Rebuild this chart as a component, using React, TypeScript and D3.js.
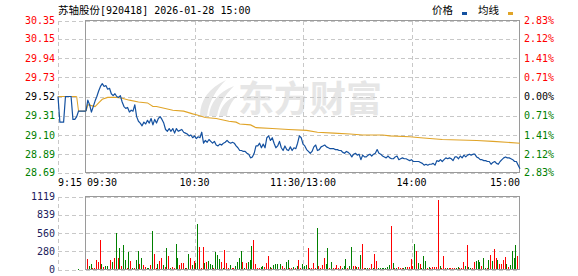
import React from "react";
import * as d3 from "d3";

const W = 578;
const H = 276;

const stockTitle = "苏轴股份";
const stockCode = "[920418] 2026-01-28 15:00";
const legendNames = ["价格", "均线"];
const watermark = "东方财富";

const prevClose = 29.52;
const priceTicks = [30.35, 30.15, 29.94, 29.73, 29.52, 29.31, 29.1, 28.89, 28.69];
const pctTicks = ["2.83%", "2.12%", "1.41%", "0.71%", "0.00%", "0.71%", "1.41%", "2.12%", "2.83%"];
const volTicks = [1119, 839, 560, 280, 0];
const volTickLabels = ["1119", "839", "560", "280", "0"];

// time labels: [label, session ("pre" | "main"), minute]
const timeLabels: [string, string, number][] = [
  ["9:15", "pre", 0],
  ["09:30", "main", 0],
  ["10:30", "main", 60],
  ["11:30/13:00", "main", 120],
  ["14:00", "main", 180],
  ["15:00", "main", 240],
];
const gridMinutes = [60, 120, 180];

// call auction 9:15-9:30 (minutes after 9:15)
const preMinutes = [0, 1, 3, 4, 7, 8, 9, 10, 11, 15];
const prePrices = [29.52, 29.24, 29.24, 29.52, 29.52, 29.27, 29.27, 29.3, 29.36, 29.36];
const preAvgMinutes = [0, 10, 11, 15];
const preAvgValues = [29.52, 29.52, 29.36, 29.36];
const preVolMinutes = [10.5];
const preVolumes = [15];

// continuous session, one value per minute from 9:30 (0) to 15:00 (240)
const prices = [
  29.36, 29.48, 29.43, 29.35, 29.41, 29.47, 29.52, 29.58, 29.63, 29.66, 29.63,
  29.64, 29.6, 29.61, 29.55, 29.53, 29.55, 29.52, 29.51, 29.53, 29.46,
  29.41, 29.39, 29.4, 29.35, 29.37, 29.36, 29.43, 29.3, 29.25, 29.23,
  29.2, 29.24, 29.22, 29.26, 29.23, 29.28, 29.21, 29.27, 29.23, 29.28,
  29.3, 29.27, 29.23, 29.16, 29.14, 29.17, 29.14, 29.17, 29.12, 29.17,
  29.14, 29.15, 29.16, 29.13, 29.12, 29.11, 29.09, 29.1, 29.07, 29.09,
  29.06, 29.08, 29.07, 29.13, 29.01, 29.04, 29.02, 29.05, 29.03, 29.01,
  29.03, 28.99, 28.98, 29.0, 28.99, 29.01, 29.02, 29.04, 29.02, 29.01,
  29.02, 29.01, 28.98, 28.96, 28.93, 28.93, 28.92, 28.92, 28.9, 28.89,
  28.85, 28.86, 28.9, 28.98, 28.98, 29.01, 28.96, 29.0, 28.96, 29.07,
  29.09, 29.04, 29.07, 29.01, 28.96, 28.98, 29.03, 28.96, 28.93, 28.98,
  28.94, 28.93, 28.97, 28.93, 28.96, 28.95, 29.01, 29.09, 29.07, 29.0,
  28.98, 28.94, 28.92, 28.9, 28.92, 28.97, 28.99, 28.93, 28.94, 28.97,
  28.98, 28.99, 28.97, 28.96, 28.95, 28.95, 28.95, 28.94, 28.94, 28.93,
  28.93, 28.91, 28.9, 28.92, 28.91, 28.89, 28.86, 28.89, 28.9, 28.88,
  28.89, 28.83, 28.88, 28.86, 28.86, 28.88, 28.89, 28.87, 28.89, 28.9,
  28.94, 28.9, 28.89, 28.87, 28.86, 28.85, 28.87, 28.85, 28.84, 28.84,
  28.86, 28.87, 28.83, 28.84, 28.85, 28.84, 28.84, 28.83, 28.82, 28.83,
  28.81, 28.81, 28.81, 28.81, 28.8, 28.79, 28.77, 28.78, 28.77, 28.78,
  28.78, 28.79, 28.77, 28.82, 28.81, 28.83, 28.81, 28.83, 28.85, 28.84,
  28.85, 28.84, 28.82, 28.86, 28.86, 28.84, 28.87, 28.85, 28.88, 28.86,
  28.88, 28.89, 28.88, 28.89, 28.89, 28.86, 28.85, 28.83, 28.83, 28.82,
  28.82, 28.81, 28.81, 28.78, 28.8, 28.81, 28.79, 28.78, 28.81, 28.83,
  28.85, 28.86, 28.85, 28.85, 28.84, 28.83, 28.81, 28.81, 28.77, 28.73,
];

const avgMinutes = [0, 1, 3, 5, 7, 9, 12, 15, 17, 20, 24, 29, 34, 37, 39, 48, 54, 59, 61, 66, 72, 79, 83, 85, 91, 94, 103, 112, 122, 128, 137, 146, 153, 164, 168, 179, 185, 197, 216, 225, 240];
const avgValues = [29.36, 29.43, 29.42, 29.41, 29.45, 29.49, 29.51, 29.51, 29.51, 29.5, 29.48, 29.46, 29.45, 29.41, 29.41, 29.37, 29.36, 29.33, 29.32, 29.29, 29.28, 29.25, 29.24, 29.22, 29.21, 29.18, 29.17, 29.16, 29.15, 29.13, 29.12, 29.11, 29.1, 29.1, 29.09, 29.08, 29.07, 29.05, 29.04, 29.03, 29.01];

// volume per minute (0..239) and its colour (r = up, g = down)
const volumes = [
  156, 47, 78, 16, 16, 140, 109, 451, 78, 36,
  47, 47, 8, 140, 119, 171, 560, 171, 327, 47,
  373, 140, 16, 264, 124, 16, 16, 140, 280, 78,
  171, 62, 31, 16, 16, 62, 591, 233, 16, 78,
  124, 171, 62, 31, 327, 202, 16, 31, 16, 389,
  171, 62, 93, 93, 16, 16, 233, 171, 62, 124,
  93, 700, 342, 16, 342, 93, 109, 124, 78, 62,
  16, 264, 218, 156, 109, 16, 296, 93, 16, 62,
  16, 16, 47, 109, 171, 280, 109, 16, 93, 109,
  140, 358, 451, 78, 16, 16, 31, 47, 31, 93,
  202, 31, 16, 62, 78, 78, 10, 78, 47, 16,
  109, 140, 16, 16, 31, 16, 47, 140, 16, 78,
  47, 62, 327, 16, 16, 93, 16, 638, 47, 16,
  62, 171, 78, 327, 16, 109, 16, 16, 62, 16,
  47, 16, 47, 156, 16, 47, 342, 47, 47, 31,
  31, 218, 389, 16, 16, 16, 16, 78, 16, 233,
  124, 16, 16, 16, 16, 16, 31, 62, 669, 93,
  16, 16, 31, 16, 16, 16, 31, 31, 31, 156,
  47, 389, 280, 93, 78, 16, 202, 124, 16, 31,
  16, 31, 31, 31, 1058, 47, 16, 202, 16, 16,
  16, 16, 16, 16, 16, 31, 16, 16, 109, 47,
  373, 31, 16, 16, 109, 124, 140, 109, 47, 171,
  16, 16, 140, 218, 124, 311, 171, 140, 78, 78,
  140, 187, 78, 31, 62, 280, 171, 373, 202, 249,
];
const volColors = (
  "rggrrrrrgr" + "ggrrgrgrgr" + "ggrgrgrggr" + "grrggrgrrg" + "rrgrgrgrrg" +
  "grrrgrgrgr" + "ggrrrgrggg" + "rgggrgrrrg" + "rrggggrgrg" + "ggrrrrggrr" +
  "rgrgggggrr" + "ggrrgrgrrg" + "ggrgrrrgrr" + "rrggrgrrrr" + "rgggrggrrg" +
  "rgrrggrrgr" + "rgggggggrg" + "rgrrrggrrr" + "rgrgrgggrg" + "rrrrrgrrrg" +
  "rrrrggrrrg" + "rggrrgggrg" + "grgrgrrgrr" + "rrgrggggrg"
).split("");

const RED = "#ff0000";
const GREEN = "#008000";
const BLUE = "#1451a0";
const ORANGE = "#e0a428";
const GRID = "#c8c8c8";
const BOX = "#9a9a9a";
const NUM_FONT = "'DejaVu Sans Mono', 'Liberation Mono', monospace";
const CJK_FONT = "'Noto Sans CJK SC', 'Noto Sans', sans-serif";

export default function App() {
  const left = 58;
  const x0 = 86;
  const x1 = 520;
  const xPre = d3.scaleLinear().domain([0, 15]).range([left, x0]);
  const xMain = d3.scaleLinear().domain([0, 240]).range([x0, x1]);
  const yP = d3.scaleLinear().domain([28.69, 30.35]).range([172.5, 20.5]);
  const yV = d3.scaleLinear().domain([0, 1119]).range([269.5, 196.5]);

  const line = d3.line<[number, number]>().x((d) => d[0]).y((d) => d[1]);

  const prePath = line(preMinutes.map((m, i) => [xPre(m), yP(prePrices[i])]));
  const preAvgPath = line(preAvgMinutes.map((m, i) => [xPre(m), yP(preAvgValues[i])]));
  const pricePath = line(prices.map((p, i) => [xMain(i), yP(p)]));
  const avgPath = line(avgMinutes.map((m, i) => [xMain(m), yP(avgValues[i])]));

  const tickColor = (v: number) => (v > prevClose + 1e-9 ? RED : v < prevClose - 1e-9 ? GREEN : "#000");

  const [pTop, pBot] = yP.range().slice().sort((a, b) => a - b);
  const [vTop, vBot] = yV.range().slice().sort((a, b) => a - b);

  return (
    <svg width={W} height={H} viewBox={`0 0 ${W} ${H}`} style={{ display: "block", position: "absolute", left: 0, top: 0, background: "#fff" }}>
      <rect x={0} y={0} width={W} height={H} fill="#fff" />

      {/* watermark */}
      <g fill="#e6e6e6">
        <path d="M200,116 C200,100 209,88 226,80 C216,90 209,101 207,116 Z" />
        <path d="M209,116 C210,103 218,92 234,86 C225,95 219,104 217,116 Z" />
        <path d="M219,116 C221,106 227,99 238,95 C231,102 228,108 227,116 Z" />
      </g>
      <text x={238} y={112} fontFamily={CJK_FONT} fontSize={36} fontWeight={700} fill="#e6e6e6">{watermark}</text>

      {/* title */}
      <text x={58} y={14} fill="#000">
        <tspan fontFamily={CJK_FONT} fontSize={10.5}>{stockTitle}</tspan>
        <tspan fontFamily={NUM_FONT} fontSize={10}>{stockCode}</tspan>
      </text>

      {/* legend */}
      <text x={432} y={14} fontFamily={CJK_FONT} fontSize={10.5} fill="#000">{legendNames[0]}</text>
      <rect x={462} y={12} width={5} height={3} fill={BLUE} />
      <text x={478} y={14} fontFamily={CJK_FONT} fontSize={10.5} fill="#000">{legendNames[1]}</text>
      <rect x={508} y={12} width={5} height={3} fill={ORANGE} />

      {/* price grid */}
      <g stroke={GRID} strokeWidth={1} strokeDasharray="4,3" fill="none" shapeRendering="crispEdges">
        {priceTicks.map((p) => (
          <line key={p} x1={left} x2={x1} y1={Math.round(yP(p)) + 0.5} y2={Math.round(yP(p)) + 0.5} />
        ))}
        <line x1={left + 0.5} x2={left + 0.5} y1={pTop} y2={pBot} />
        {gridMinutes.map((m) => (
          <line key={m} x1={Math.round(xMain(m)) + 0.5} x2={Math.round(xMain(m)) + 0.5} y1={pTop} y2={pBot} />
        ))}
      </g>

      {/* volume grid */}
      <g stroke={GRID} strokeWidth={1} strokeDasharray="4,3" fill="none" shapeRendering="crispEdges">
        {volTicks.map((v) => (
          <line key={v} x1={left} x2={x1} y1={Math.round(yV(v)) + 0.5} y2={Math.round(yV(v)) + 0.5} />
        ))}
        <line x1={left + 0.5} x2={left + 0.5} y1={vTop} y2={vBot} />
        {gridMinutes.map((m) => (
          <line key={m} x1={Math.round(xMain(m)) + 0.5} x2={Math.round(xMain(m)) + 0.5} y1={vTop} y2={vBot} />
        ))}
      </g>

      {/* volume bars */}
      <g shapeRendering="crispEdges">
        {volumes.map((v, i) => {
          const x = Math.round(xMain(i + 0.5));
          const y = yV(v);
          return (
            <rect key={i} x={x} y={y} width={1} height={Math.max(1, yV(0) - y)} fill={volColors[i] === "r" ? RED : GREEN} />
          );
        })}
        {preVolumes.map((v, i) => {
          const x = Math.round(xPre(preVolMinutes[i]));
          const y = yV(v);
          return <rect key={"p" + i} x={x} y={y} width={1} height={Math.max(1, yV(0) - y)} fill={GREEN} />;
        })}
      </g>

      {/* boxes */}
      <rect x={x0 - 0.5} y={pTop} width={x1 - x0} height={pBot - pTop} fill="none" stroke={BOX} strokeWidth={1} shapeRendering="crispEdges" />
      <rect x={x0 - 0.5} y={vTop} width={x1 - x0} height={vBot - vTop} fill="none" stroke={BOX} strokeWidth={1} shapeRendering="crispEdges" />

      {/* lines */}
      <path d={preAvgPath || ""} fill="none" stroke={ORANGE} strokeWidth={1} />
      <path d={prePath || ""} fill="none" stroke={BLUE} strokeWidth={1.2} />
      <path d={avgPath || ""} fill="none" stroke={ORANGE} strokeWidth={1.1} />
      <path d={pricePath || ""} fill="none" stroke={BLUE} strokeWidth={1.2} strokeLinejoin="round" />

      {/* left price axis */}
      <g fontFamily={NUM_FONT} fontSize={10}>
        {priceTicks.map((p) => (
          <text key={p} x={55} y={yP(p)} dy="0.36em" textAnchor="end" fill={tickColor(p)}>
            {p.toFixed(2)}
          </text>
        ))}
        {priceTicks.map((p, i) => (
          <text key={"r" + p} x={524} y={yP(p)} dy="0.36em" textAnchor="start" fill={tickColor(p)}>
            {pctTicks[i]}
          </text>
        ))}
        {volTicks.map((v, i) => (
          <text key={"v" + v} x={55} y={yV(v)} dy="0.36em" textAnchor="end" fill="#1c1c5c">
            {volTickLabels[i]}
          </text>
        ))}
        {timeLabels.map(([label, session, m], i) => {
          const x = session === "pre" ? xPre(m) : xMain(m);
          const anchor = i <= 1 ? "start" : i === timeLabels.length - 1 ? "end" : "middle";
          return (
            <text key={label} x={i === 1 ? x + 1 : x} y={186} textAnchor={anchor} fill="#000">
              {label}
            </text>
          );
        })}
      </g>
    </svg>
  );
}
